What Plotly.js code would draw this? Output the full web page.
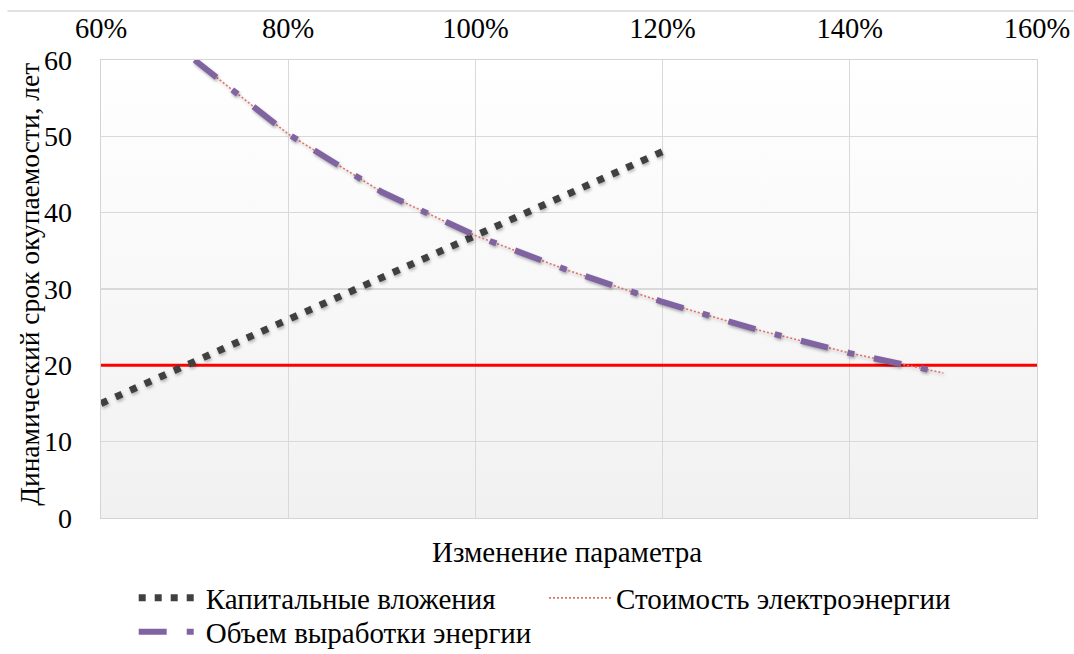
<!DOCTYPE html>
<html>
<head>
<meta charset="utf-8">
<script src="https://cdn.plot.ly/plotly-3.0.1.min.js"></script>
<style>
  html, body { margin: 0; padding: 0; background: #ffffff; }
  #chart { width: 1074px; height: 654px; }
  /* soft drop shadow under the three data series */
  .scatterlayer .trace:not(:first-child) path.js-line {
    filter: drop-shadow(1px 2px 1.5px rgba(0, 0, 0, 0.28));
  }
</style>
</head>
<body>
<div id="chart"></div>
<script>
// Sensitivity of the dynamic payback period to a parameter change (% of base)
const capitalX = [60, 70, 80, 90, 100, 110, 120];
const capitalY = [15, 20.5, 26, 31.5, 37, 42.5, 48];

const energyX = [70, 80, 90, 100, 110, 120, 130, 140, 150];
const costY   = [60, 50.3, 42.7, 37, 32.4, 28.3, 24.7, 21.6, 19];
const outputY = [60, 50.3, 42.7, 37, 32.4, 28.3, 24.7, 21.6, 19];

const limitX = [60, 160];
const limitY = [20, 20];

const xTicks = [60, 80, 100, 120, 140, 160];
const xTickText = ['60%', '80%', '100%', '120%', '140%', '160%'];
const yTicks = [0, 10, 20, 30, 40, 50, 60];

const names = ['Капитальные вложения', 'Стоимость электроэнергии', 'Объем выработки энергии'];
const xTitle = 'Изменение параметра';
const yTitle = 'Динамический срок окупаемости, лет';

const FONT = 'Liberation Serif';

const traces = [
  { x: limitX, y: limitY, mode: 'lines', showlegend: false, hoverinfo: 'skip',
    line: { color: '#ff0000', width: 3 }, cliponaxis: false },
  { x: capitalX, y: capitalY, name: names[0], mode: 'lines', legend: 'legend',
    line: { color: '#404040', width: 7, dash: '7px,9px' } },
  { x: energyX, y: costY, name: names[1], mode: 'lines', legend: 'legend2',
    line: { color: '#e0706a', width: 1.6, dash: '2px,2px' } },
  { x: energyX, y: outputY, name: names[2], mode: 'lines', legend: 'legend3',
    line: { color: '#8064a2', width: 6, dash: '28px,20px,7px,20px' } }
];

// light vertical gradient behind the plot area
const gradSvg = '<svg xmlns="http://www.w3.org/2000/svg" width="100" height="100" preserveAspectRatio="none">' +
  '<defs><linearGradient id="g" x1="0" y1="0" x2="0" y2="1">' +
  '<stop offset="0" stop-color="#ffffff"/><stop offset="1" stop-color="#f1f1f1"/>' +
  '</linearGradient></defs><rect width="100" height="100" fill="url(#g)"/></svg>';
const gradUri = 'data:image/svg+xml;charset=utf-8,' + encodeURIComponent(gradSvg);

const legendBase = {
  orientation: 'h', xref: 'container', yref: 'container',
  xanchor: 'left', yanchor: 'middle',
  font: { family: FONT, size: 29, color: '#000000' },
  bgcolor: 'rgba(0,0,0,0)', itemwidth: 62, tracegroupgap: 0, borderwidth: 0
};

const layout = {
  width: 1074, height: 654,
  margin: { l: 101, r: 37, t: 60, b: 136 },
  paper_bgcolor: '#ffffff',
  plot_bgcolor: 'rgba(0,0,0,0)',
  font: { family: FONT, size: 28, color: '#000000' },
  xaxis: {
    side: 'top', range: [60, 160], tickmode: 'array', tickvals: xTicks, ticktext: xTickText,
    showgrid: true, gridcolor: '#d9d9d9', gridwidth: 1.2,
    showline: true, mirror: true, linecolor: '#d4d4d4', linewidth: 1.3,
    zeroline: false, ticks: '', ticklabelstandoff: 9,
    tickfont: { family: FONT, size: 28.5, color: '#000000' }, fixedrange: true
  },
  yaxis: {
    range: [0, 60], tickmode: 'array', tickvals: yTicks,
    showgrid: true, gridcolor: '#d9d9d9', gridwidth: 1.2,
    showline: true, mirror: true, linecolor: '#d4d4d4', linewidth: 1.3,
    zeroline: false, ticks: '', ticklabelstandoff: 22,
    tickfont: { family: FONT, size: 28, color: '#000000' }, fixedrange: true
  },
  legend:  Object.assign({}, legendBase, { x: 0.1245, y: 1 - 598 / 654 }),
  legend2: Object.assign({}, legendBase, { x: 0.5065, y: 1 - 598 / 654 }),
  legend3: Object.assign({}, legendBase, { x: 0.1245, y: 1 - 632 / 654 }),
  images: [{
    source: gradUri, xref: 'paper', yref: 'paper', x: 0, y: 1,
    sizex: 1, sizey: 1, sizing: 'stretch', xanchor: 'left', yanchor: 'top',
    layer: 'below'
  }],
  shapes: [{
    type: 'line', xref: 'paper', yref: 'paper',
    x0: -0.1, x1: 1.05, y0: 1.107, y1: 1.107,
    line: { color: '#d9d9d9', width: 1.5 }
  }],
  annotations: [
    { text: xTitle, xref: 'paper', yref: 'paper', x: 0.498, y: -0.074,
      xanchor: 'center', yanchor: 'middle', showarrow: false,
      font: { family: FONT, size: 29, color: '#000000' } },
    { text: yTitle, xref: 'paper', yref: 'paper', x: -0.076, y: 0.511,
      xanchor: 'center', yanchor: 'middle', textangle: -90, showarrow: false,
      font: { family: FONT, size: 27.5, color: '#000000' } }
  ]
};

Plotly.newPlot('chart', traces, layout, { displayModeBar: false, staticPlot: true })
  .then(function (gd) {
    // the second legend row is set a little wider
    gd.querySelectorAll('text.legendtext').forEach(function (t) {
      if (t.textContent === names[2]) t.style.letterSpacing = '1.35px';
    });
  });
</script>
</body>
</html>
